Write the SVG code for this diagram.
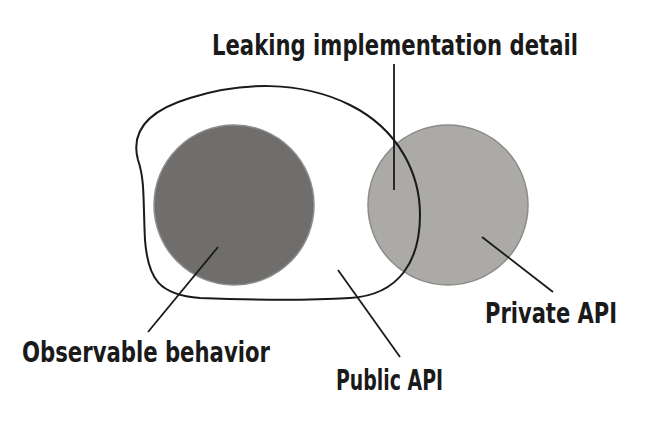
<svg xmlns="http://www.w3.org/2000/svg" width="660" height="448" viewBox="0 0 660 448">
<style>
.lbl{font-family:"DejaVu Sans Condensed","DejaVu Sans","Liberation Sans",sans-serif;font-weight:bold;font-size:28px;fill:#1a1a1a}
.lead{stroke:#1a1a1a;stroke-width:1.8;fill:none}
</style>
<rect width="660" height="448" fill="#ffffff"/>
<g id="observable-behavior">
<circle cx="234" cy="205" r="80" fill="#6f6e6c" stroke="#8e8d8b" stroke-width="1.5"/>
</g>
<g id="private-api">
<circle cx="448" cy="205" r="80" fill="#abaaa7" stroke="#8c8b89" stroke-width="1.5"/>
</g>
<g id="public-api">
<path d="M 138,160 C 130,130 150,110 190,98 C 240,82 300,80 350,105 C 400,130 420,175 420,215 C 420,260 400,295 350,298 C 300,301 250,300 200,298 C 160,295 148,280 145,240 C 143,200 145,180 138,160 Z" fill="none" stroke="#1a1a1a" stroke-width="2"/>
</g>
<g id="connectors">
<line class="lead" x1="394" y1="64" x2="394" y2="190"/>
<line class="lead" x1="218" y1="247" x2="148" y2="332"/>
<line class="lead" x1="338" y1="270" x2="400" y2="357"/>
<line class="lead" x1="482" y1="237" x2="553" y2="292"/>
</g>
<g id="labels">
<text class="lbl" x="212" y="55" textLength="366" lengthAdjust="spacingAndGlyphs">Leaking implementation detail</text>
<text class="lbl" x="22" y="362" textLength="248" lengthAdjust="spacingAndGlyphs">Observable behavior</text>
<text class="lbl" x="336" y="390" textLength="107" lengthAdjust="spacingAndGlyphs">Public API</text>
<text class="lbl" x="485" y="323" textLength="132" lengthAdjust="spacingAndGlyphs">Private API</text>
</g>
</svg>
